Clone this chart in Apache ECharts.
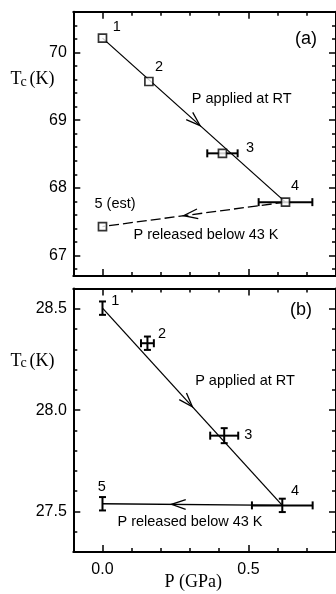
<!DOCTYPE html>
<html><head><meta charset="utf-8">
<script src="https://cdn.jsdelivr.net/npm/echarts@6/dist/echarts.min.js"></script>
<style>html,body{margin:0;padding:0;background:#fff}#c{width:336px;height:594px}</style>
</head><body><div id="c"></div>
<script>
// ---- Panel (a) data ----
const pressureA = [0.0, 0.159, 0.411, 0.627, 0.0];
const tcA = [70.21, 69.57, 68.51, 67.79, 67.43];
const pErrA = [0, 0, 0.052, 0.092, 0];
const tcErrA = [0, 0, 0, 0, 0];
const pointLabelsA = ['1', '2', '3', '4', '5 (est)'];
// ---- Panel (b) data ----
const pressureB = [0.0, 0.154, 0.417, 0.616, 0.0];
const tcB = [28.503, 28.33, 27.874, 27.53, 27.538];
const pErrB = [0, 0.022, 0.048, 0.104, 0];
const tcErrB = [0.033, 0.033, 0.037, 0.033, 0.033];
const pointLabelsB = ['1', '2', '3', '4', '5'];
// arrow positions (fraction along segment)
const arrowFracA = [0.533, 0.557];
const arrowFracB = [0.50, 0.616];
// ---- ticks ----
const xRange = [-0.1, 0.8];
const xMajorTicks = [0.0, 0.5];
const xMinorTicks = [-0.1, 0.0, 0.1, 0.2, 0.3, 0.4, 0.5, 0.6, 0.7, 0.8];
const yRangeA = [66.7, 70.6];
const yMajorTicksA = [67, 68, 69, 70];
const yMinorTicksA = [66.8, 67.0, 67.2, 67.4, 67.6, 67.8, 68.0, 68.2, 68.4, 68.6, 68.8, 69.0, 69.2, 69.4, 69.6, 69.8, 70.0, 70.2, 70.4, 70.6];
const yRangeB = [27.3, 28.6];
const yMajorTicksB = [27.5, 28.0, 28.5];
const yMinorTicksB = [27.3, 27.4, 27.5, 27.6, 27.7, 27.8, 27.9, 28.0, 28.1, 28.2, 28.3, 28.4, 28.5, 28.6];
const xTitle = 'P (GPa)';
const annotations = { applied: 'P applied at RT', released: 'P released below 43 K' };

const SANS = '"Liberation Sans", Arial, sans-serif';
const SERIF = '"Liberation Serif", "Times New Roman", serif';
const BLACK = '#000';

const chart = echarts.init(document.getElementById('c'));

function axisSet(kind, g, range, major, minor, pos1, pos2, labelFmt) {
  const base = { gridIndex: g, type: 'value', min: range[0], max: range[1], splitLine: { show: false } };
  const line = { show: true, onZero: false, lineStyle: { color: BLACK, width: 2 } };
  const noLine = { show: false, onZero: false };
  const tickStyle = { color: BLACK, width: 1.5 };
  const out = [];
  [pos1, pos2].forEach((pos, k) => {
    out.push(Object.assign({}, base, {
      position: pos, axisLine: line,
      axisTick: { show: true, inside: true, length: 7, customValues: major, lineStyle: tickStyle },
      axisLabel: (k === 0 && labelFmt) ? {
        show: true, customValues: major, formatter: labelFmt, color: BLACK,
        fontSize: 16, fontFamily: SANS, margin: kind === 'x' ? 10 : 6.5
      } : { show: false }
    }));
    out.push(Object.assign({}, base, {
      position: pos, axisLine: noLine,
      axisTick: { show: true, inside: true, length: 4, customValues: minor, lineStyle: tickStyle },
      axisLabel: { show: false }
    }));
  });
  return out;
}

const xAxes = [].concat(
  axisSet('x', 0, xRange, xMajorTicks, xMinorTicks, 'bottom', 'top', null),
  axisSet('x', 1, xRange, xMajorTicks, xMinorTicks, 'bottom', 'top', v => v.toFixed(1))
);
const yAxes = [].concat(
  axisSet('y', 0, yRangeA, yMajorTicksA, yMinorTicksA, 'left', 'right', v => String(Math.round(v))),
  axisSet('y', 1, yRangeB, yMajorTicksB, yMinorTicksB, 'left', 'right', v => v.toFixed(1))
);

function errRender(params, api) {
  const p = api.value(0), t = api.value(1), ep = api.value(2), et = api.value(3);
  const c = api.coord([p, t]);
  const st = { stroke: BLACK, lineWidth: 2 };
  const ch = [];
  if (ep > 0) {
    const l = api.coord([p - ep, t])[0], r = api.coord([p + ep, t])[0];
    ch.push({ type: 'line', shape: { x1: l, y1: c[1], x2: r, y2: c[1] }, style: st });
    ch.push({ type: 'line', shape: { x1: l, y1: c[1] - 4, x2: l, y2: c[1] + 4 }, style: st });
    ch.push({ type: 'line', shape: { x1: r, y1: c[1] - 4, x2: r, y2: c[1] + 4 }, style: st });
  }
  if (et > 0) {
    const tp = api.coord([p, t + et])[1], bt = api.coord([p, t - et])[1];
    ch.push({ type: 'line', shape: { x1: c[0], y1: tp, x2: c[0], y2: bt }, style: st });
    ch.push({ type: 'line', shape: { x1: c[0] - 3.5, y1: tp, x2: c[0] + 3.5, y2: tp }, style: st });
    ch.push({ type: 'line', shape: { x1: c[0] - 3.5, y1: bt, x2: c[0] + 3.5, y2: bt }, style: st });
  }
  return { type: 'group', children: ch };
}

function arrowRender(params, api) {
  const a = api.coord([api.value(0), api.value(1)]);
  const b = api.coord([api.value(2), api.value(3)]);
  const f = api.value(4);
  const tip = [a[0] + (b[0] - a[0]) * f, a[1] + (b[1] - a[1]) * f];
  const dx = b[0] - a[0], dy = b[1] - a[1], len = Math.hypot(dx, dy);
  const ux = dx / len, uy = dy / len;
  const L = 15, ang = 19 * Math.PI / 180;
  const rot = s => [ux * Math.cos(s) - uy * Math.sin(s), ux * Math.sin(s) + uy * Math.cos(s)];
  const r1 = rot(ang), r2 = rot(-ang);
  return {
    type: 'polyline',
    shape: { points: [[tip[0] - L * r1[0], tip[1] - L * r1[1]], tip, [tip[0] - L * r2[0], tip[1] - L * r2[1]]] },
    style: { stroke: BLACK, lineWidth: 1.3, fill: null }
  };
}

function panelSeries(xi, yi, P, T, EP, ET, fracs, squares, dashedReturn) {
  const s = [];
  s.push({ type: 'line', xAxisIndex: xi, yAxisIndex: yi, symbol: 'none', z: 3,
    data: [[P[0], T[0]], [P[3], T[3]]], lineStyle: { color: BLACK, width: 1.3 } });
  s.push({ type: 'line', xAxisIndex: xi, yAxisIndex: yi, symbol: 'none', z: 3,
    data: [[P[3], T[3]], [P[4], T[4]]],
    lineStyle: { color: BLACK, width: 1.3, type: dashedReturn ? [10, 4] : 'solid' } });
  s.push({ type: 'custom', xAxisIndex: xi, yAxisIndex: yi, z: 2, renderItem: errRender,
    encode: { x: [0], y: [1] },
    data: P.map((p, i) => [p, T[i], EP[i], ET[i]]) });
  s.push({ type: 'custom', xAxisIndex: xi, yAxisIndex: yi, z: 3, renderItem: arrowRender,
    encode: { x: [0, 2], y: [1, 3] },
    data: [[P[0], T[0], P[3], T[3], fracs[0]], [P[3], T[3], P[4], T[4], fracs[1]]] });
  if (squares) {
    s.push({ type: 'scatter', xAxisIndex: xi, yAxisIndex: yi, z: 5, symbol: 'rect', symbolSize: 8,
      itemStyle: { color: '#fff', borderColor: BLACK, borderWidth: 1.7 },
      data: P.map((p, i) => [p, T[i]]) });
  }
  return s;
}

function txt(text, x, y, font, align) {
  return { type: 'text', z: 100, style: { text: text, x: x, y: y, font: font, fill: BLACK,
    align: align || 'center', verticalAlign: 'middle', textAlign: align || 'center', textVerticalAlign: 'middle' } };
}
const F14 = '14.5px ' + SANS;
const graphics = [
  // panel a
  txt(pointLabelsA[0], 116.7, 27, F14), txt(pointLabelsA[1], 159, 66.7, F14),
  txt(pointLabelsA[2], 250, 147.5, F14), txt(pointLabelsA[3], 295, 186), txt(pointLabelsA[4], 115, 203.8, F14),
  txt(annotations.applied, 241.7, 99, F14), txt(annotations.released, 206, 235, F14),
  txt('(a)', 306, 39.5, '18px ' + SANS),
  txt('T', 10.5, 79.3, '18px ' + SERIF, 'left'), txt('c', 20.5, 82.3, '14px ' + SERIF, 'left'),
  txt('(K)', 29.5, 79.3, '18px ' + SERIF, 'left'),
  // panel b
  txt(pointLabelsB[0], 115.3, 300.8, F14), txt(pointLabelsB[1], 162, 334, F14),
  txt(pointLabelsB[2], 248.3, 435, F14), txt(pointLabelsB[3], 295, 491, F14), txt(pointLabelsB[4], 101.7, 486.7, F14),
  txt(annotations.applied, 245, 381, F14), txt(annotations.released, 190, 522, F14),
  txt('(b)', 301, 310.5, '18px ' + SANS),
  txt('T', 10.5, 360.8, '18px ' + SERIF, 'left'), txt('c', 20.5, 363.8, '14px ' + SERIF, 'left'),
  txt('(K)', 29.5, 360.8, '18px ' + SERIF, 'left'),
  txt(xTitle, 193.3, 582.5, '18px ' + SERIF)
];
graphics[3].style.font = F14;

chart.setOption({
  animation: false,
  backgroundColor: '#fff',
  grid: [
    { left: 73.3, top: 11.7, width: 266.4, height: 264.3, containLabel: false },
    { left: 73.3, top: 288.5, width: 266.4, height: 263.5, containLabel: false }
  ],
  xAxis: xAxes,
  yAxis: yAxes,
  series: [].concat(
    panelSeries(0, 0, pressureA, tcA, pErrA, tcErrA, arrowFracA, true, true),
    panelSeries(4, 4, pressureB, tcB, pErrB, tcErrB, arrowFracB, false, false)
  ),
  graphic: { elements: graphics }
});
</script></body></html>
